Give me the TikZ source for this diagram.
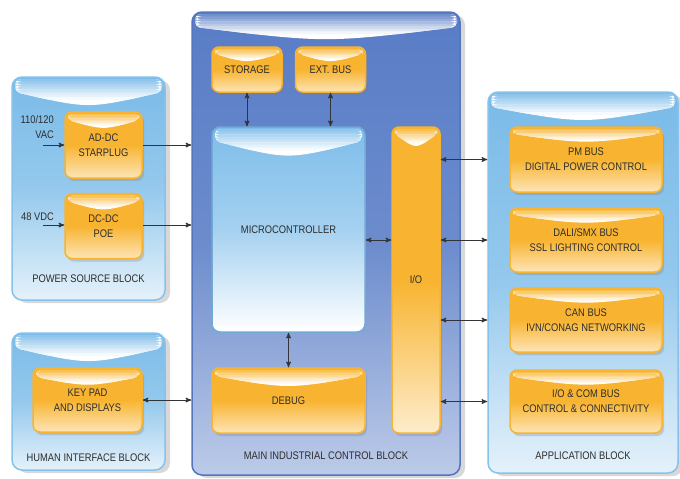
\documentclass[tikz,border=0pt]{standalone}
\usepackage{fontspec}
\setmainfont[FakeStretch=0.85]{Liberation Sans}
\usetikzlibrary{positioning,calc,arrows,shadows}
\usepackage{xcolor}

\definecolor{mainblue}{RGB}{88,124,198}
\definecolor{sideblue}{RGB}{122,187,232}
\definecolor{microblue}{RGB}{126,189,234}
\definecolor{boxorange}{RGB}{248,180,48}
\definecolor{textgray}{RGB}{45,45,45}
\definecolor{arrowgray}{RGB}{50,52,58}

\tikzset{
  gloss/.style n args={3}{path picture={
    \begin{scope}
      \clip[rounded corners=5pt] ([xshift=3pt,yshift=-2pt]path picture bounding box.north west)
        -- ([xshift=-3pt,yshift=-2pt]path picture bounding box.north east)
        -- ([xshift=-3pt,yshift=-#2]path picture bounding box.north east)
        .. controls ([yshift=-#3]path picture bounding box.north) ..
        ([xshift=3pt,yshift=-#2]path picture bounding box.north west) -- cycle;
      \fill[white] ([yshift=-2pt]path picture bounding box.north west)
        rectangle ([yshift=-#3]path picture bounding box.north east);
      % stepped fade from the block colour down to white
      \foreach \k in {0,...,7}{
        \pgfmathtruncatemacro\pct{85-11*\k}
        \fill[#1!\pct!white] ([yshift={-2pt-\k*0.08*#3}]path picture bounding box.north west)
          rectangle ([yshift={-2pt-(\k+1)*0.08*#3-0.3pt}]path picture bounding box.north east);
      }
    \end{scope}}},
  txt/.style={text=textgray,font=\fontsize{11}{15}\selectfont,align=center},
}

\begin{document}
\begin{tikzpicture}[x=1pt,y=-1pt,>=stealth',
  block/.style={rounded corners=10pt,line width=1.5pt,inner sep=0pt,
    drop shadow={opacity=0.3,shadow xshift=5pt,shadow yshift=-3pt}},
  side block/.style={block,draw=sideblue!90!white,top color=sideblue,bottom color=sideblue!20!white,
    middle color=sideblue!80!white,gloss={sideblue}{15pt}{32pt}},
  main block/.style={block,draw=mainblue!95!black,top color=mainblue,bottom color=mainblue!40!white,
    middle color=mainblue!88!white,gloss={mainblue}{15pt}{31pt}},
  obox/.style={txt,rounded corners=7pt,line width=1.5pt,inner sep=0pt,draw=boxorange,
    top color=boxorange,bottom color=boxorange!35!white,middle color=boxorange,
    drop shadow={opacity=0.3,shadow xshift=2pt,shadow yshift=-3pt}},
  blocklabel/.style={txt},
  inlabel/.style={txt,align=right,inner sep=0pt},
  arr/.style={arrowgray,line width=1pt}]
% frame
  \useasboundingbox (0,0) rectangle (680,479);
  \fill[white] (0,0) rectangle (680,479);
% big blocks
  \node[side block,minimum width=153pt,minimum height=223pt] (power) at (88.5,188.5) {};
  \node[side block,minimum width=153pt,minimum height=137pt] (human) at (88.5,401.5) {};
  \node[main block,minimum width=268pt,minimum height=463pt] (main) at (326,243.5) {};
  \node[side block,minimum width=190pt,minimum height=381pt] (app) at (583,282.5) {};
  \node[blocklabel] (powerlabel) at ([yshift=22pt]power.south) {POWER SOURCE BLOCK};
  \node[blocklabel] (humanlabel) at ([yshift=13pt]human.south) {HUMAN INTERFACE BLOCK};
  \node[blocklabel] (mainlabel) at ([yshift=20pt]main.south) {MAIN INDUSTRIAL CONTROL BLOCK};
  \node[blocklabel] (applabel) at ([yshift=18pt]app.south) {APPLICATION BLOCK};
% power and human interface
  \node[obox,minimum width=77pt,minimum height=66pt,gloss={boxorange}{8pt}{18pt}] (acdc) at (103.5,145) {AD-DC\\STARPLUG};
  \node[obox,minimum width=77pt,minimum height=65pt,gloss={boxorange}{8pt}{18pt}] (dcdc) [below=14pt of acdc] {DC-DC\\POE};
  \node[obox,minimum width=109pt,minimum height=64pt,gloss={boxorange}{9pt}{19pt}] (keypad) at (87.5,400) {KEY PAD\\AND DISPLAYS};
  \node[inlabel,anchor=south east] (vaclabel) at (54,139) {110/120\\VAC};
  \node[inlabel,anchor=east] (vdclabel) at (54,217) {48 VDC};
  \coordinate (vac) at (43,145);
  \coordinate (vdc) at (43,225);
% main block
  \node[obox,minimum width=70pt,minimum height=45pt,gloss={boxorange}{7pt}{16pt}] (storage) at (247,69.5) {STORAGE};
  \node[obox,minimum width=70pt,minimum height=45pt,gloss={boxorange}{7pt}{16pt}] (extbus) [right=12pt of storage] {EXT. BUS};
  \node[txt,rounded corners=8pt,line width=1.5pt,inner sep=0pt,draw=microblue!90!black,
    top color=microblue,bottom color=white,middle color=microblue!70!white,
    gloss={microblue}{14pt}{33pt},minimum width=153pt,minimum height=205pt] (micro) at (288.5,229.5) {MICROCONTROLLER};
  \node[obox,minimum width=153pt,minimum height=65pt,gloss={boxorange}{8pt}{21pt}] (debug) at (288.5,400.5) {DEBUG};
  \node[obox,bottom color=boxorange!25!white,middle color=boxorange,minimum width=48pt,minimum height=306pt,gloss={boxorange}{7pt}{22pt}] (io) at (416,280) {I/O};
% application block
  \node[obox,minimum width=152pt,minimum height=65pt,gloss={boxorange}{7pt}{17pt}] (pmbus) at (586,159.5) {PM BUS\\DIGITAL POWER CONTROL};
  \node[obox,minimum width=152pt,minimum height=64pt,gloss={boxorange}{7pt}{17pt}] (dali) at (586,240) {DALI/SMX BUS\\SSL LIGHTING CONTROL};
  \node[obox,minimum width=152pt,minimum height=64pt,gloss={boxorange}{7pt}{17pt}] (canbus) at (586,320) {CAN BUS\\IVN/CONAG NETWORKING};
  \node[obox,minimum width=152pt,minimum height=63pt,gloss={boxorange}{7pt}{17pt}] (iocom) at (586,401.5) {I/O \& COM BUS\\CONTROL \& CONNECTIVITY};
% arrows
  \draw[arr,->] (vac) -- (acdc);
  \draw[arr,->] (vdc) -- (vdc -| dcdc.west);
  \draw[arr,->] (acdc) -- (acdc -| main.west);
  \draw[arr,->] (vdc -| dcdc.east) -- (vdc -| main.west);
  \draw[arr,<->] (keypad) -- (keypad -| main.west);
  \draw[arr,<->] (storage) -- (storage |- micro.north);
  \draw[arr,<->] (extbus) -- (extbus |- micro.north);
  \draw[arr,<->] (micro.south -| debug) -- (debug);
  \draw[arr,<->] (micro.east |- dali) -- (io.west |- dali);
  \foreach \n in {pmbus,dali,canbus,iocom}
    \draw[arr,<->] (io.east |- \n) -- (app.west |- \n);
\end{tikzpicture}
\end{document}
